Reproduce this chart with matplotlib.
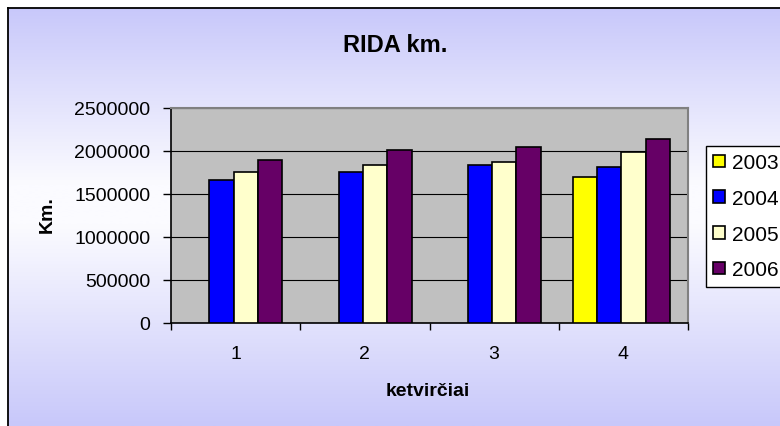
import matplotlib.pyplot as plt
import numpy as np
from matplotlib.patches import Patch
from matplotlib.colors import LinearSegmentedColormap

plt.rcParams['font.family'] = ['Liberation Sans', 'DejaVu Sans']

quarters = ['1', '2', '3', '4']
years = ['2003', '2004', '2005', '2006']
km_2003 = [np.nan, np.nan, np.nan, 1698000]
km_2004 = [1666000, 1756000, 1834000, 1814000]
km_2005 = [1756000, 1834000, 1876000, 1988000]
km_2006 = [1895000, 2008000, 2047000, 2143000]
colors = ['#ffff00', '#0000ff', '#ffffcc', '#660066']

W, H = 780, 427
fig = plt.figure(figsize=(W / 100, H / 100), dpi=100)
fig.patch.set_facecolor('white')

# chart area with vertical gradient (lavender - white - lavender)
bg = fig.add_axes([8 / W, 0, 1 - 8 / W, 1 - 9 / H])
cmap = LinearSegmentedColormap.from_list(
    'bg', [(0, '#c8c8fa'), (0.42, '#fbfbff'), (0.52, '#fbfbff'), (1, '#c8c8fa')])
grad = np.linspace(0, 1, 256).reshape(-1, 1)
bg.imshow(grad, aspect='auto', cmap=cmap, extent=[0, 1, 0, 1], origin='upper')
bg.set_xlim(0, 1)
bg.set_ylim(0, 1)
bg.set_xticks([])
bg.set_yticks([])
for side in ['right', 'bottom']:
    bg.spines[side].set_visible(False)
for side in ['left', 'top']:
    bg.spines[side].set_linewidth(1.3)
    bg.spines[side].set_color('black')
bg.set_zorder(-5)

left, right, top, bottom = 171, 688, 109, 324
ax = fig.add_axes([left / W, 1 - bottom / H, (right - left) / W, (bottom - top) / H])
ax.set_facecolor('#c0c0c0')

x = np.arange(len(quarters))
bw = 0.188
series = [km_2003, km_2004, km_2005, km_2006]
for i, (vals, c) in enumerate(zip(series, colors)):
    ax.bar(x + (i - 1.5) * bw - 0.015, vals, width=bw, color=c,
           edgecolor='black', linewidth=1.2, zorder=3)

ax.set_xlim(-0.5, 3.5)
ax.set_ylim(0, 2500000)
ax.set_yticks(np.arange(0, 2500001, 500000))
ax.set_yticklabels([str(v) for v in range(0, 2500001, 500000)], fontsize=14)
ax.set_xticks([0, 1, 2, 3])
ax.set_xticklabels(quarters, fontsize=14)
ax.set_xticks([-0.5, 0.5, 1.5, 2.5, 3.5], minor=True)
ax.tick_params(axis='x', which='major', length=0, pad=16)
ax.tick_params(axis='x', which='minor', length=5, width=1, direction='out')
ax.tick_params(axis='y', length=6, width=1, direction='out', pad=9)
ax.grid(axis='y', color='black', linewidth=0.8, zorder=1)
ax.set_axisbelow(True)
ax.spines['top'].set_color('#808080')
ax.spines['right'].set_color('#808080')
ax.spines['top'].set_linewidth(1.5)
ax.spines['right'].set_linewidth(1.5)
ax.spines['left'].set_linewidth(1.2)
ax.spines['bottom'].set_linewidth(1.2)

fig.text(395 / W, 1 - 45 / H, 'RIDA km.', fontsize=17, fontweight='bold',
         ha='center', va='center')
fig.text(47 / W, 1 - 215 / H, 'Km.', fontsize=14, fontweight='bold',
         ha='center', va='center', rotation=90)
fig.text(428 / W, 1 - 392 / H, 'ketvirčiai', fontsize=14, fontweight='bold',
         ha='center', va='center')

handles = [Patch(facecolor=c, edgecolor='black', linewidth=1.2) for c in colors]
leg = fig.legend(handles, years, loc='upper left',
                 bbox_to_anchor=(706 / W, 1 - 147 / H), fontsize=15,
                 frameon=True, fancybox=False, edgecolor='black',
                 framealpha=1, borderpad=0.35, labelspacing=0.8,
                 handlelength=0.55, handleheight=0.55, handletextpad=0.35,
                 borderaxespad=0)
leg.get_frame().set_linewidth(1.0)

fig.savefig('out.png', dpi=100)
